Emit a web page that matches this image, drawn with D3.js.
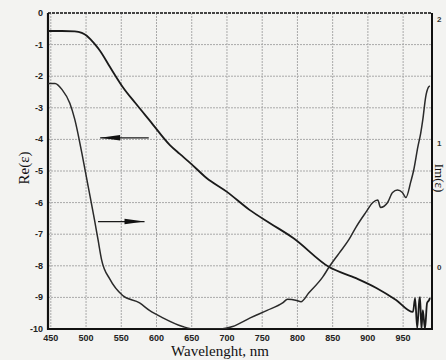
<!DOCTYPE html>
<html>
<head>
<meta charset="utf-8">
<script src="https://cdn.jsdelivr.net/npm/d3@7"></script>
<style>
  html, body { margin: 0; padding: 0; background: #f3f3f1; }
  svg { display: block; }
</style>
</head>
<body>
<div id="chart"></div>
<script>
// Re(eps), left axis
const reWl = [446, 466, 484, 494, 501, 507, 513, 520, 534, 552, 570, 591, 619, 633, 648, 671, 700, 732, 761, 794,
              845, 883, 912, 940, 964, 967, 970, 973, 974, 976, 978, 981, 984, 987, 988];
const reVal = [-0.57, -0.57, -0.58, -0.63, -0.72, -0.85, -1.0, -1.2, -1.71, -2.34, -2.85, -3.42, -4.18, -4.46, -4.75, -5.22, -5.66, -6.23, -6.65, -7.12,
               -8.04, -8.39, -8.70, -9.08, -9.46, -9.02, -9.97, -9.08, -8.99, -10.0, -9.40, -10.0, -9.18, -9.08, -9.02];

// Im(eps), right axis
const imWl = [446, 456, 466, 477, 484, 494, 503, 512, 517, 522, 534, 552, 576, 590, 609, 637, 652, 690, 708, 733, 757, 779, 786, 799, 805,
              816, 836, 845, 859, 873, 883, 897, 907, 914, 918, 928, 935, 942, 949, 954, 961, 965, 971, 975, 978, 982, 986, 988];
const imVal = [1.48, 1.48, 1.43, 1.32, 1.19, 0.92, 0.65, 0.38, 0.22, 0.06, -0.10, -0.23, -0.29, -0.35, -0.41, -0.48, -0.50, -0.50, -0.48, -0.41, -0.35, -0.29, -0.26, -0.27, -0.28,
               -0.21, -0.08, 0.00, 0.11, 0.22, 0.32, 0.44, 0.52, 0.54, 0.48, 0.52, 0.60, 0.62, 0.60, 0.56, 0.69, 0.78, 0.97, 1.08, 1.19, 1.37, 1.45, 1.46];

const xTicks = [450, 500, 550, 600, 650, 700, 750, 800, 850, 900, 950];
const leftTicks = [0, -1, -2, -3, -4, -5, -6, -7, -8, -9, -10];
const rightTicks = [0, 1, 2];

const W = 446, H = 360;
const plot = {left: 48, right: 432, top: 13, bottom: 329};

const svg = d3.select('#chart').append('svg')
    .attr('width', W).attr('height', H);

svg.append('rect').attr('width', W).attr('height', H).attr('fill', '#f3f3f1');

const x = d3.scaleLinear().domain([446, 991]).range([plot.left, plot.right]);
const yL = d3.scaleLinear().domain([-10, 0]).range([plot.bottom, plot.top]);
const yR = d3.scaleLinear().domain([-0.5, 2.048]).range([plot.bottom, plot.top]);

// dotted grid
const grid = svg.append('g')
    .attr('stroke', '#a9a9a9')
    .attr('stroke-width', 1)
    .attr('stroke-dasharray', '2,1');
grid.selectAll('line.v').data(xTicks).enter().append('line')
    .attr('x1', d => x(d)).attr('x2', d => x(d))
    .attr('y1', plot.top).attr('y2', plot.bottom);
grid.selectAll('line.h').data(leftTicks.slice(1, -1)).enter().append('line')
    .attr('x1', plot.left).attr('x2', plot.right)
    .attr('y1', d => yL(d)).attr('y2', d => yL(d));

// frame
svg.append('line').attr('x1', plot.left).attr('x2', plot.right)
    .attr('y1', plot.top).attr('y2', plot.top)
    .attr('stroke', '#444').attr('stroke-width', 2).attr('stroke-dasharray', '3,1');
svg.append('line').attr('x1', plot.right).attr('x2', plot.right)
    .attr('y1', plot.top).attr('y2', plot.bottom)
    .attr('stroke', '#111').attr('stroke-width', 2);
svg.append('line').attr('x1', plot.left).attr('x2', plot.left)
    .attr('y1', plot.top).attr('y2', plot.bottom + 1)
    .attr('stroke', '#111').attr('stroke-width', 2.2);
svg.append('line').attr('x1', plot.left - 1).attr('x2', plot.right + 1)
    .attr('y1', plot.bottom).attr('y2', plot.bottom)
    .attr('stroke', '#111').attr('stroke-width', 2.2);

// curves
svg.append('defs').append('clipPath').attr('id', 'clip')
    .append('rect').attr('x', plot.left).attr('y', plot.top)
    .attr('width', plot.right - plot.left).attr('height', plot.bottom - plot.top);

const reLine = d3.line()
    .x((d, i) => x(reWl[i])).y(d => yL(d))
    .curve(d3.curveMonotoneX);
const imLine = d3.line()
    .x((d, i) => x(imWl[i])).y(d => yR(d))
    .curve(d3.curveMonotoneX);

const curves = svg.append('g').attr('clip-path', 'url(#clip)').attr('fill', 'none');
curves.append('path').attr('d', reLine(reVal))
    .attr('stroke', '#1a1a1a').attr('stroke-width', 1.8);
curves.append('path').attr('d', imLine(imVal))
    .attr('stroke', '#2a2a2a').attr('stroke-width', 1.5);

// arrows
function arrow(x1, x2, y, dir) {
    const g = svg.append('g');
    g.append('line').attr('x1', x1).attr('x2', x2).attr('y1', y).attr('y2', y)
        .attr('stroke', '#1a1a1a').attr('stroke-width', 1.2);
    const tip = dir < 0 ? x1 : x2;
    const base = tip - dir * 20;
    g.append('path')
        .attr('d', `M${tip},${y} L${base},${y - 2.8} L${base},${y + 2.8} Z`)
        .attr('fill', '#111');
}
arrow(x(520), x(589), yL(-3.95), -1);
arrow(x(517), x(583), yL(-6.6), 1);

// tick labels
const tickFont = 'Liberation Sans, Arial, sans-serif';
svg.selectAll('text.xt').data(xTicks).enter().append('text')
    .attr('x', d => x(d)).attr('y', 341)
    .attr('text-anchor', 'middle')
    .attr('font-family', tickFont).attr('font-size', 9).attr('font-weight', 'bold')
    .attr('fill', '#222')
    .text(d => d);
svg.selectAll('text.yt').data(leftTicks).enter().append('text')
    .attr('x', 43).attr('y', d => yL(d) + 3)
    .attr('text-anchor', 'end')
    .attr('font-family', tickFont).attr('font-size', 9).attr('font-weight', 'bold')
    .attr('fill', '#222')
    .text(d => d);
svg.selectAll('text.rt').data(rightTicks).enter().append('text')
    .attr('x', 437).attr('y', d => yR(d) + 3)
    .attr('font-family', tickFont).attr('font-size', 8).attr('font-weight', 'bold')
    .attr('fill', '#333')
    .text(d => d);

// axis titles
const titleFont = 'Liberation Serif, Times New Roman, serif';
svg.append('text')
    .attr('x', 220).attr('y', 356)
    .attr('text-anchor', 'middle')
    .attr('font-family', titleFont).attr('font-size', 15)
    .attr('fill', '#111')
    .text('Wavelenght, nm');
svg.append('text')
    .attr('transform', 'translate(29,168) rotate(-90)')
    .attr('text-anchor', 'middle')
    .attr('font-family', titleFont).attr('font-size', 15)
    .attr('fill', '#111')
    .text('Re(ε)');
svg.append('text')
    .attr('transform', 'translate(435,178) rotate(90)')
    .attr('text-anchor', 'middle')
    .attr('font-family', titleFont).attr('font-size', 13)
    .attr('fill', '#111')
    .text('Im(ε)');
</script>
</body>
</html>
